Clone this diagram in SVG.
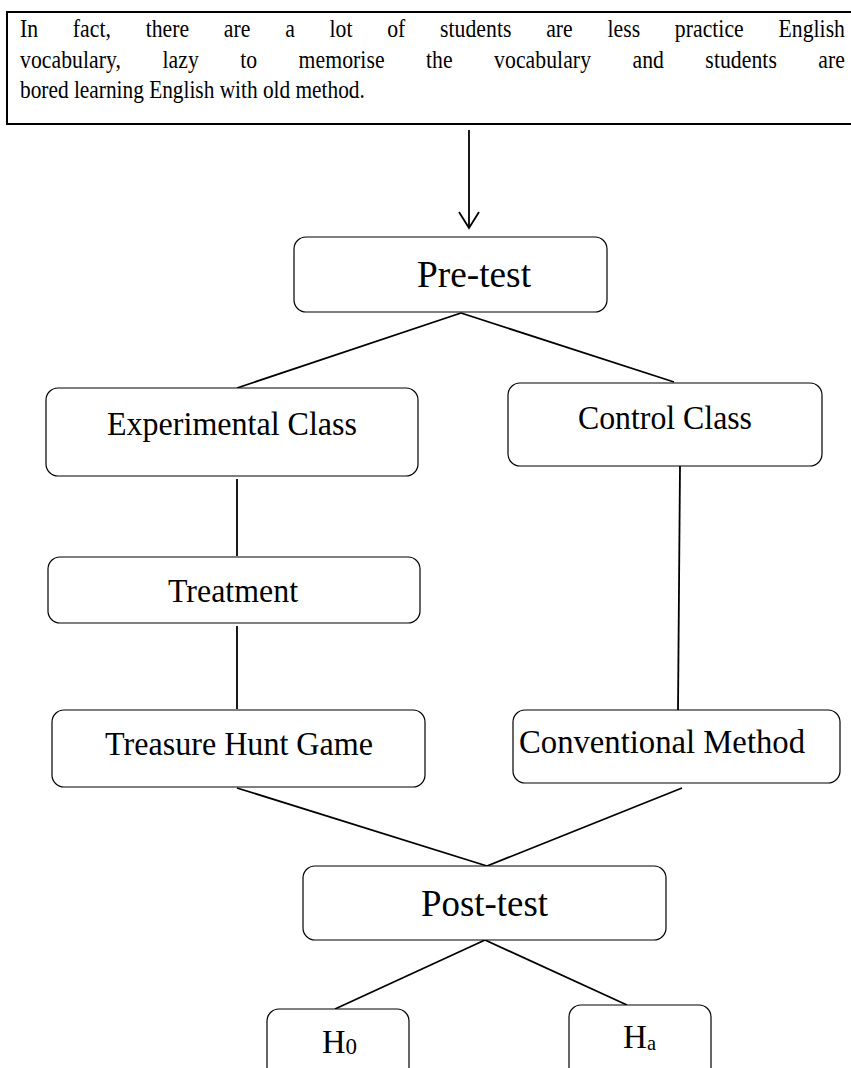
<svg xmlns="http://www.w3.org/2000/svg" width="851" height="1068" viewBox="0 0 851 1068">
<style>
text{font-family:"Liberation Serif","Times New Roman",Times,serif;fill:#000}
.box{fill:#fff;stroke:#000;stroke-width:1.2}
.lbl{font-size:34px}
.big{font-size:38px}
.top{font-size:26px}
.con{stroke:#000;stroke-width:1.8;fill:none}
</style>
<rect width="851" height="1068" fill="#fff"/>
<g id="problem">
<rect x="7" y="12" width="856" height="112" fill="#fff" stroke="#000" stroke-width="2"/>
<g transform="scale(0.835,1)">
<text class="top" x="23.95" y="37" word-spacing="35" textLength="988" lengthAdjust="spacing">In fact, there are a lot of students are less practice English</text>
<text class="top" x="23.95" y="68" word-spacing="43" textLength="988" lengthAdjust="spacing">vocabulary, lazy to memorise the vocabulary and students are</text>
<text class="top" x="23.95" y="98" textLength="413" lengthAdjust="spacingAndGlyphs">bored learning English with old method.</text>
</g>
</g>
<g id="connectors">
<line class="con" x1="469" y1="130" x2="469" y2="228"/>
<polyline class="con" points="459,212 469,228 479,212"/>
<line class="con" x1="461" y1="313" x2="237" y2="388"/>
<line class="con" x1="461" y1="313" x2="674" y2="382"/>
<line class="con" x1="237" y1="479" x2="237" y2="556"/>
<line class="con" x1="237" y1="626" x2="237" y2="709"/>
<line class="con" x1="680" y1="466" x2="678" y2="710"/>
<line class="con" x1="237" y1="788" x2="487" y2="866"/>
<line class="con" x1="682" y1="788" x2="487" y2="866"/>
<line class="con" x1="485" y1="940" x2="335" y2="1009"/>
<line class="con" x1="485" y1="940" x2="627" y2="1005"/>
</g>
<g id="pretest">
<rect class="box" x="294" y="237" width="313" height="75" rx="12"/>
<text class="big" x="417" y="287" textLength="114" lengthAdjust="spacingAndGlyphs">Pre-test</text>
</g>
<g id="experimental">
<rect class="box" x="46" y="388" width="372" height="88" rx="12"/>
<text class="lbl" x="107" y="435" textLength="250" lengthAdjust="spacingAndGlyphs">Experimental Class</text>
</g>
<g id="control">
<rect class="box" x="508" y="383" width="314" height="83" rx="12"/>
<text class="lbl" x="578" y="429" textLength="174" lengthAdjust="spacingAndGlyphs">Control Class</text>
</g>
<g id="treatment">
<rect class="box" x="48" y="557" width="372" height="66" rx="12"/>
<text class="lbl" x="168" y="602" textLength="130" lengthAdjust="spacingAndGlyphs">Treatment</text>
</g>
<g id="treasure">
<rect class="box" x="52" y="710" width="373" height="77" rx="12"/>
<text class="lbl" x="105" y="755" textLength="268" lengthAdjust="spacingAndGlyphs">Treasure Hunt Game</text>
</g>
<g id="conventional">
<rect class="box" x="513" y="710" width="327" height="73" rx="12"/>
<text class="lbl" x="519" y="753" textLength="286" lengthAdjust="spacingAndGlyphs">Conventional Method</text>
</g>
<g id="posttest">
<rect class="box" x="303" y="866" width="363" height="74" rx="12"/>
<text class="big" x="421" y="916" textLength="127" lengthAdjust="spacingAndGlyphs">Post-test</text>
</g>
<g id="h0">
<rect class="box" x="267" y="1009" width="142" height="80" rx="12"/>
<text class="lbl" x="322" y="1053" textLength="35" lengthAdjust="spacingAndGlyphs">H<tspan font-size="24" dy="1">0</tspan></text>
</g>
<g id="ha">
<rect class="box" x="569" y="1005" width="142" height="84" rx="12"/>
<text class="lbl" x="623" y="1048" textLength="33" lengthAdjust="spacingAndGlyphs">H<tspan font-size="21" dy="2">a</tspan></text>
</g>
</svg>
